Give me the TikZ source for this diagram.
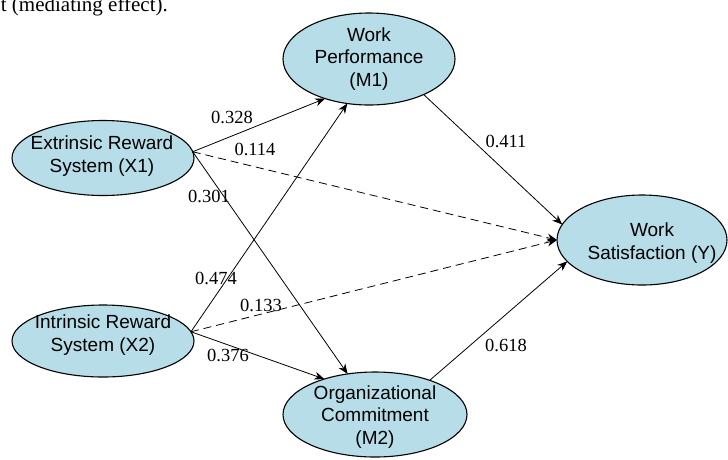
\documentclass[tikz,border=0pt]{standalone}
\usepackage{fontspec}
\setmainfont{Liberation Serif}
\newfontfamily\arialf{Liberation Sans}
\usetikzlibrary{shapes.geometric,arrows.meta}
\definecolor{nodeblue}{RGB}{183,221,232}
\begin{document}
\begin{tikzpicture}[x=1pt,y=-1pt,
  latent/.style={ellipse,draw=black,line width=1.1pt,fill=nodeblue,inner sep=0pt,outer sep=0pt},
  ntext/.style={font=\arialf\fontsize{19}{22.5}\selectfont,align=center,inner sep=0pt},
  coef/.style={font=\fontsize{18.5}{20}\selectfont,inner sep=0pt},
  effect/.style={line width=0.8pt,-{Stealth[length=10pt,width=8pt]}},
  indirect/.style={effect,dash pattern=on 8pt off 5pt}]
\useasboundingbox (0,0) rectangle (728,459);
% caption fragment, cut by the top edge
\node[anchor=base east,font=\fontsize{21}{23}\selectfont,inner sep=0pt] (cap) at (168,11) {t (mediating effect).};
% latent variables
\node[latent,minimum width=182pt,minimum height=75pt] (X1) at (103,158) {};
\node[latent,minimum width=182pt,minimum height=72pt] (X2) at (103,341) {};
\node[latent,minimum width=172pt,minimum height=92pt] (M1) at (369,59) {};
\node[latent,minimum width=184pt,minimum height=85pt] (M2) at (375,414.5) {};
\node[latent,minimum width=170pt,minimum height=90pt] (Y) at (642,240) {};
\node[ntext] (tX1) at (102,156) {Extrinsic Reward\\System (X1)};
\node[ntext] (tX2) at (103,335) {Intrinsic Reward\\System (X2)};
\node[ntext] (tM1) at (369,59) {Work\\Performance\\(M1)};
\node[ntext] (tM2) at (375,417) {Organizational\\Commitment\\(M2)};
\node[ntext] (tY) at (652,243) {Work\\Satisfaction (Y)};
% paths
\draw[effect] (X1.4.5) -- (M1.222.9);
\draw[effect] (X1.4.5) -- (M2.124);
\draw[indirect] (X1.4.5) -- (Y.180);
\draw[effect] (X2.6.3) -- (M1.244.4);
\draw[effect] (X2.6.3) -- (M2.145.4);
\draw[indirect] (X2.6.3) -- (Y.180);
\draw[effect] (M1.-33.2) -- (Y.169.6);
\draw[effect] (M2.32.1) -- (Y.196);
% coefficients
\node[coef] (c1) at (232,117) {0.328};
\node[coef] (c2) at (255,149) {0.114};
\node[coef] (c3) at (209,196) {0.301};
\node[coef] (c4) at (216,278) {0.474};
\node[coef] (c5) at (261,305) {0.133};
\node[coef] (c6) at (228,355) {0.376};
\node[coef] (c7) at (506,141) {0.411};
\node[coef] (c8) at (506,345) {0.618};
\end{tikzpicture}
\end{document}
